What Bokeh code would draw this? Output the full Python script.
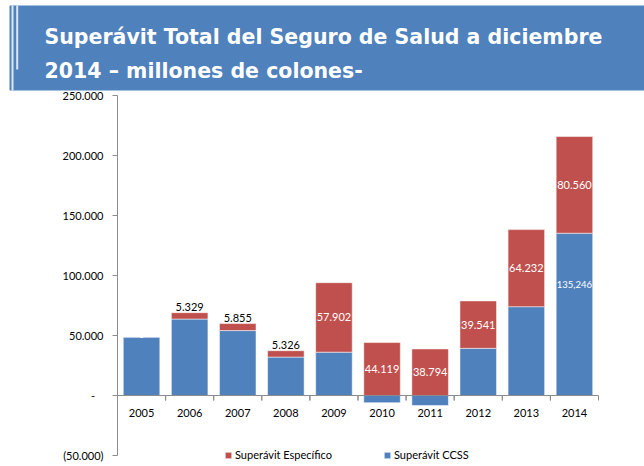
import numpy as np
from bokeh.plotting import figure
from bokeh.models import (ColumnDataSource, Range1d, FixedTicker, Legend, LegendItem)
from bokeh.core.properties import value
from bokeh.embed import file_html
from bokeh.resources import INLINE

# ---------------- data ----------------
years = ["2005", "2006", "2007", "2008", "2009", "2010", "2011", "2012", "2013", "2014"]
ccss = [48700, 63700, 54100, 32000, 36100, -6000, -8300, 39300, 74000, 135246]
especifico = [0, 5329, 5855, 5326, 57902, 44119, 38794, 39541, 64232, 80560]
esp_labels = ["-", "5.329", "5.855", "5.326", "57.902", "44.119", "38.794", "39.541", "64.232", "80.560"]
esp_label_inside = [True, False, False, False, True, True, True, True, True, True]
ccss_labels = ["", "", "", "", "", "", "", "", "", "135,246"]
y_ticks = [-50000, 0, 50000, 100000, 150000, 200000, 250000]
y_tick_labels = ["(50.000)", "-\u00a0\u00a0\u00a0", "50.000", "100.000", "150.000", "200.000", "250.000"]
title_lines = ["Superávit Total del Seguro de Salud a diciembre", "2014 \u2013 millones de colones-"]
series_names = ["Superávit Específico", "Superávit CCSS"]

BLUE = "#4F81BD"
RED = "#C0504D"
AXIS = "#8c8c8c"
FONT = "Lato"

W, H = 644, 466
# plot area in page pixels
PX_LEFT, PX_RIGHT = 117, 598
PX_Y_TOP, PX_Y_BOT = 95, 455          # pixel rows of y_ticks[-1] and y_ticks[0]

n = len(years)
x_idx = np.arange(n, dtype=float)
cat_px = (PX_RIGHT - PX_LEFT) / n
x_start = -0.5 - PX_LEFT / cat_px
x_end = (n - 0.5) + (W - PX_RIGHT) / cat_px
y_per_px = (y_ticks[-1] - y_ticks[0]) / (PX_Y_BOT - PX_Y_TOP)
y_top = y_ticks[-1] + PX_Y_TOP * y_per_px
y_bot = y_ticks[0] - (H - PX_Y_BOT) * y_per_px

p = figure(width=W, height=H, x_range=Range1d(x_start, x_end), y_range=Range1d(y_bot, y_top),
           output_backend="svg", toolbar_location=None, x_axis_location=None,
           min_border=0, outline_line_color=None,
           background_fill_color="white", border_fill_color="white")
p.grid.visible = False
# pixel ranges for the header banner
p.extra_x_ranges = {"px": Range1d(0, W)}
p.extra_y_ranges = {"px": Range1d(H, 0)}

# ---------------- banner ----------------
p.quad(left=9, right=W, top=5, bottom=90, fill_color=BLUE, line_color=None,
       x_range_name="px", y_range_name="px")
p.quad(left=[11, 15.7], right=[13, 17.7], top=[5, 5], bottom=[90, 69],
       fill_color="#dce6f2", line_color=None, x_range_name="px", y_range_name="px")
p.text(x=[44, 44], y=[36.7, 70], text=title_lines, text_color="white",
       text_font=value("DejaVu Sans"), text_font_style="bold", text_font_size="20.5px",
       text_baseline="alphabetic", text_align="left", x_range_name="px", y_range_name="px")

# ---------------- bars ----------------
ccss_arr = np.array(ccss, dtype=float)
esp_arr = np.array(especifico, dtype=float)
esp_bottom = np.maximum(ccss_arr, 0)
esp_top = esp_bottom + esp_arr
inside = np.array(esp_label_inside)
esp_label_y = np.where(inside, (esp_bottom + esp_top) / 2, esp_top)
esp_label_color = ["white" if v else "black" for v in esp_label_inside]
esp_label_off = [0 if v else -6 for v in esp_label_inside]

src = ColumnDataSource(dict(
    x=x_idx, year=years, ccss=ccss_arr, zero=np.zeros(n),
    esp_bottom=esp_bottom, esp_top=esp_top,
    esp_label=esp_labels, esp_label_y=esp_label_y,
    esp_label_color=esp_label_color, esp_label_off=esp_label_off,
    ccss_label=ccss_labels, edge_l=x_idx - 0.5, edge_r=x_idx + 0.5,
))

r_ccss = p.vbar(x="x", bottom="zero", top="ccss", width=0.76, source=src,
                fill_color=BLUE, line_color="white", line_alpha=0.5, line_width=1)
r_esp = p.vbar(x="x", bottom="esp_bottom", top="esp_top", width=0.76, source=src,
               fill_color=RED, line_color="white", line_alpha=0.5, line_width=1)

# category axis at y = 0
p.segment(x0=x_idx[0] - 0.5, y0=0, x1=x_idx[-1] + 0.5, y1=0, line_color=AXIS, line_width=1.2)
tick_len = 5 * y_per_px
p.segment(x0="edge_l", y0=0, x1="edge_l", y1=-tick_len, source=src, line_color=AXIS, line_width=1)
p.segment(x0="edge_r", y0=0, x1="edge_r", y1=-tick_len, source=src, line_color=AXIS, line_width=1)
p.text(x="x", y="zero", text="year", source=src, y_offset=17,
       text_font=value(FONT), text_font_size="11px", text_color="black",
       text_align="center", text_baseline="middle")

# data labels
p.text(x="x", y="esp_label_y", text="esp_label", source=src, y_offset="esp_label_off",
       text_font=value(FONT), text_font_size="11px", text_color="esp_label_color",
       text_align="center", text_baseline="middle")
p.text(x="x", y="ccss", text="ccss_label", source=src, y_offset=51,
       text_font=value(FONT), text_font_size="9.5px", text_color="white",
       text_align="center", text_baseline="middle")

# y axis fixed at the left edge of the category area
yax = p.yaxis[0]
yax.fixed_location = x_idx[0] - 0.5
yax.bounds = (y_ticks[0], y_ticks[-1])
yax.ticker = FixedTicker(ticks=y_ticks)
yax.major_label_overrides = {t: l for t, l in zip(y_ticks, y_tick_labels)}
yax.axis_line_color = AXIS
yax.major_tick_line_color = AXIS
yax.major_tick_out = 5
yax.major_tick_in = 0
yax.minor_tick_line_color = None
yax.major_label_standoff = 9
yax.major_label_text_font = FONT
yax.major_label_text_font_size = "11px"
yax.major_label_text_color = "black"

# legends (screen position from the bottom-left corner)
for r, name, x in [(r_esp, series_names[0], 224), (r_ccss, series_names[1], 383)]:
    lg = Legend(items=[LegendItem(label=name, renderers=[r])], location=(x, 5),
                orientation="horizontal", padding=0, margin=0, spacing=0,
                glyph_width=8, glyph_height=8, label_height=12, label_standoff=3,
                label_text_font=FONT, label_text_font_size="11px", label_text_color="black",
                border_line_color=None, background_fill_alpha=0)
    p.add_layout(lg, "center")

open("out.html", "w").write(file_html(p, INLINE))
